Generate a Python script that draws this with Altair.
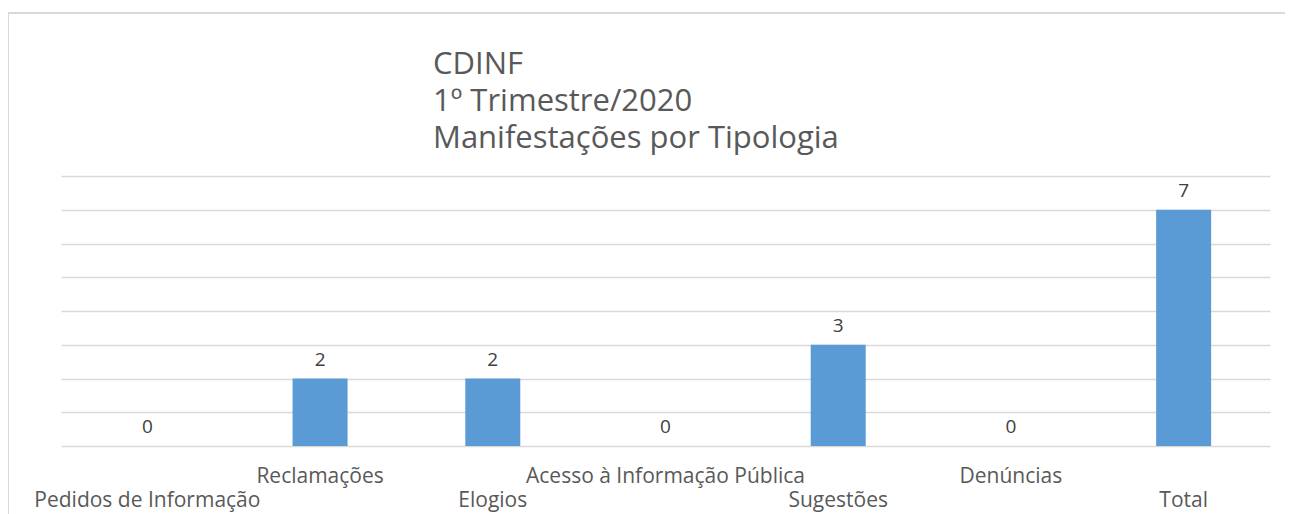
import altair as alt
import pandas as pd

categories = ["Pedidos de Informação", "Reclamações", "Elogios",
              "Acesso à Informação Pública", "Sugestões", "Denúncias", "Total"]
values = [0, 2, 2, 0, 3, 0, 7]
title_lines = ["CDINF", "1º Trimestre/2020", "Manifestações por Tipologia"]

df = pd.DataFrame({"cat": categories, "val": values, "idx": list(range(len(categories)))})

W, H = 1209, 270
FONT = "Open Sans"
GREY = "#595959"

x = alt.X("cat:N", sort=categories, axis=None,
          scale=alt.Scale(paddingInner=0, paddingOuter=0))
yaxis = alt.Axis(values=list(range(0, 9)), grid=True, gridColor="#d9d9d9",
                 gridWidth=1.5, domain=False, ticks=False, labels=False, title=None)
y = alt.Y("val:Q", scale=alt.Scale(domain=[0, 8], nice=False), axis=yaxis)

base = alt.Chart(df)

frame = base.mark_rect(fill=None, stroke="#d9d9d9", strokeWidth=2, clip=False).encode(
    x=alt.value(-53), x2=alt.value(1229), y=alt.value(-163), y2=alt.value(370)
).transform_filter("datum.idx == 0")

title = base.mark_text(align="left", baseline="alphabetic", fontSize=31, font=FONT,
                       color=GREY, lineHeight=37).encode(
    x=alt.value(372), y=alt.value(-102), text=alt.value(title_lines)
).transform_filter("datum.idx == 0")

bars = base.mark_bar(size=55, color="#5b9bd5").encode(x=x, y=y)

vals = base.mark_text(baseline="alphabetic", dy=-13, fontSize=19, font=FONT, color="#404040").encode(
    x=x, y=y, text="val:Q")

lab_hi = base.mark_text(fontSize=21, font=FONT, color=GREY, baseline="alphabetic").encode(
    x=x, y=alt.value(307), text="cat:N").transform_filter("datum.idx % 2 == 1")
lab_lo = base.mark_text(fontSize=21, font=FONT, color=GREY, baseline="alphabetic").encode(
    x=x, y=alt.value(331), text="cat:N").transform_filter("datum.idx % 2 == 0")

chart = alt.layer(frame, title, bars, vals, lab_hi, lab_lo).properties(
    width=W, height=H,
    autosize=alt.AutoSizeParams(type="none"),
    padding={"left": 53, "top": 168, "right": 15, "bottom": 80},
).configure_view(stroke=None)

chart.save("out.html", embed_options={"renderer": "svg", "actions": False})
